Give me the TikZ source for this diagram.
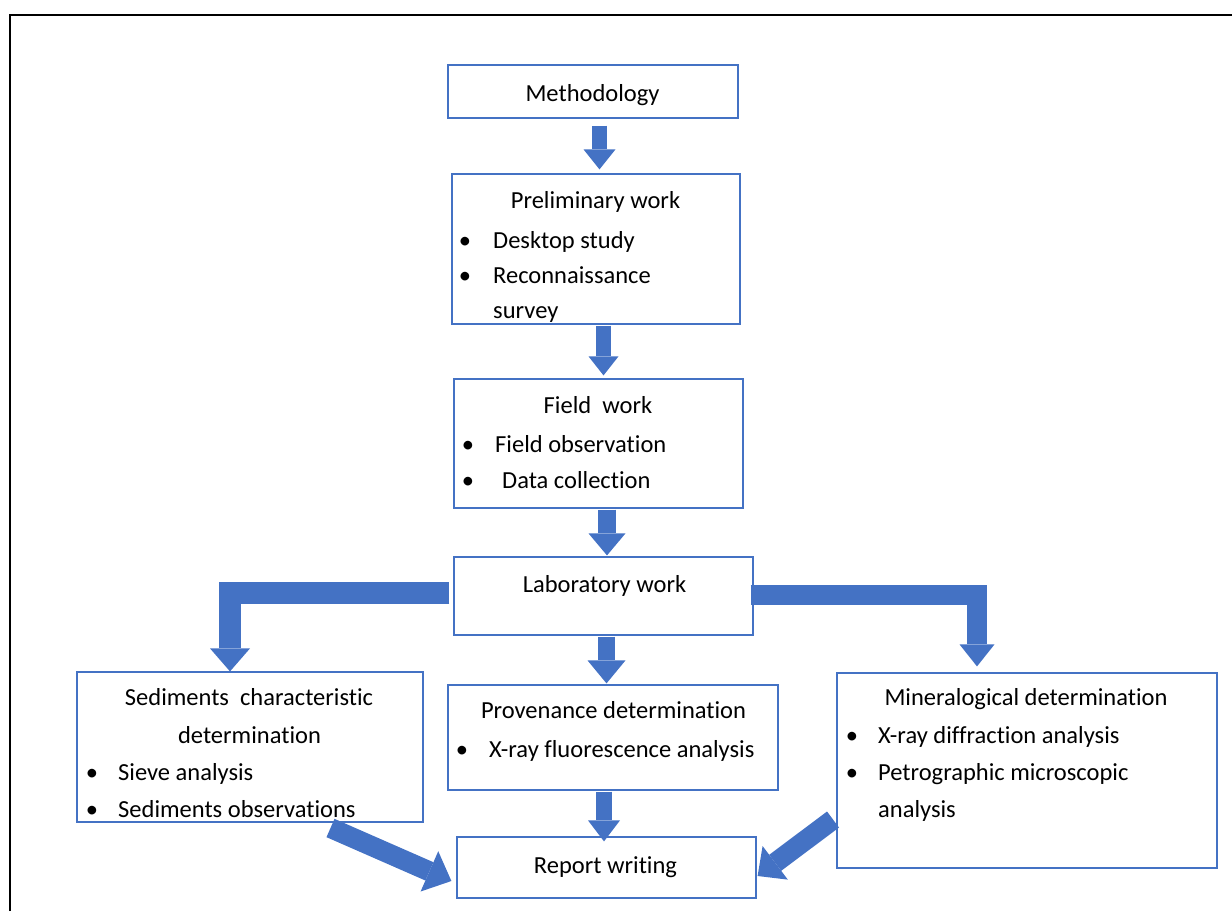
\documentclass[tikz,border=0pt]{standalone}
\usepackage{fontspec}
\setmainfont{Carlito}[Ligatures=NoCommon]
\usetikzlibrary{arrows.meta}
\definecolor{bleu}{HTML}{4472C4}
\tikzset{
  boite/.style={draw=bleu, line width=1.2pt, inner sep=0pt},
  txt/.style={font=\fontsize{24.5}{29}\selectfont, inner sep=0pt, anchor=base},
  txtg/.style={txt, anchor=base west},
  fleche/.style={draw=bleu, line width=#1},
  fleche/.default=16pt,
  pointe/.style 2 args={-{Triangle[width=#1,length=#2,line width=0pt]}},
}
\begin{document}
\begin{tikzpicture}[x=1pt,y=-1pt]
\useasboundingbox (0,0) rectangle (1232,911);
%cadre
\draw[line width=2pt] (10.3,911) -- (10.3,14.8) -- (1232,14.8);
%boites
\node[boite, minimum width=290pt, minimum height=53pt] (meth) at (593,91.5) {};
\node[boite, minimum width=288pt, minimum height=150pt] (prelim) at (596,249) {};
\node[boite, minimum width=289pt, minimum height=129pt] (field) at (598.5,443.5) {};
\node[boite, minimum width=299pt, minimum height=78pt] (lab) at (603.5,596) {};
\node[boite, minimum width=346pt, minimum height=150pt] (sed) at (250,747) {};
\node[boite, minimum width=330pt, minimum height=105pt] (prov) at (613,737.5) {};
\node[boite, minimum width=380pt, minimum height=195pt] (miner) at (1027,770.5) {};
\node[boite, minimum width=299pt, minimum height=61pt] (report) at (606.5,867.5) {};
%textes
\node[txt] (methT) at (592.5,101) {Methodology};
\node[txt] (prelimT) at (595.5,208) {Preliminary work};
\node[txtg] (prelimA) at (493,248) {Desktop study};
\node[txtg] (prelimB) at (493,283) {Reconnaissance};
\node[txtg] (prelimC) at (493,318) {survey};
\node[txt] (fieldT) at (598,413) {Field\ \ work};
\node[txtg] (fieldA) at (495,452) {Field observation};
\node[txtg] (fieldB) at (502,488) {Data collection};
\node[txt] (labT) at (604.5,592) {Laboratory work};
\node[txt] (sedT) at (249,705) {Sediments\ \ characteristic};
\node[txt] (sedU) at (249.5,743) {determination};
\node[txtg] (sedA) at (118,780) {Sieve analysis};
\node[txtg] (sedB) at (118,817) {Sediments observations};
\node[txt] (provT) at (613.5,718) {Provenance determination};
\node[txtg] (provA) at (489,757) {X-ray fluorescence analysis};
\node[txt] (minerT) at (1026,705) {Mineralogical determination};
\node[txtg] (minerA) at (878,743) {X-ray diffraction analysis};
\node[txtg] (minerB) at (878,780) {Petrographic microscopic};
\node[txtg] (minerC) at (878,817) {analysis};
\node[txt] (reportT) at (605.5,873) {Report writing};
%puces
\foreach \x/\y [count=\i] in {465/248,465/283,468/452,468/488,92/780,92/817,462/757,852/743,852/780}
  {\node[txt] (puce\i) at (\x,\y) {\textbullet};}
%fleches droites
\draw[fleche=15pt, pointe={32pt}{20pt}, shorten <=7pt, shorten >=4pt] (599.5,0 |- meth.south) -- (599.5,0 |- prelim.north);
\draw[fleche=15pt, pointe={30pt}{19pt}, shorten <=1pt, shorten >=3pt] (603.5,0 |- prelim.south) -- (603.5,0 |- field.north);
\draw[fleche=18pt, pointe={37pt}{22pt}, shorten <=1pt, shorten >=1pt] (607,0 |- field.south) -- (607,0 |- lab.north);
\draw[fleche=17pt, pointe={38pt}{23pt}, shorten <=1pt, shorten >=1pt] (606.5,0 |- lab.south) -- (606.5,0 |- prov.north);
\draw[fleche=16pt, pointe={32pt}{21pt}, shorten <=1pt, shorten >=-5pt] (604,0 |- prov.south) -- (604,0 |- report.north);
%fleches coudees
\draw[fleche=22pt, pointe={40pt}{23pt}, shorten <=4pt] (lab.west |- 0,593) -| (230,0 |- sed.north);
\draw[fleche=20pt, pointe={35pt}{22pt}, shorten <=-3pt, shorten >=6pt] (lab.east |- 0,595) -| (977,0 |- miner.north);
%fleches obliques
\coordinate (qsed) at (330.5,828);
\coordinate (qminer) at (833,819.5);
\draw[fleche=20pt, pointe={44pt}{24pt}] (qsed) -- ([xshift=-5pt,yshift=-13.5pt]report.west);
\draw[fleche=20pt, pointe={42pt}{22pt}] (qminer) -- ([xshift=1pt,yshift=-8.5pt]report.east);
\end{tikzpicture}
\end{document}
